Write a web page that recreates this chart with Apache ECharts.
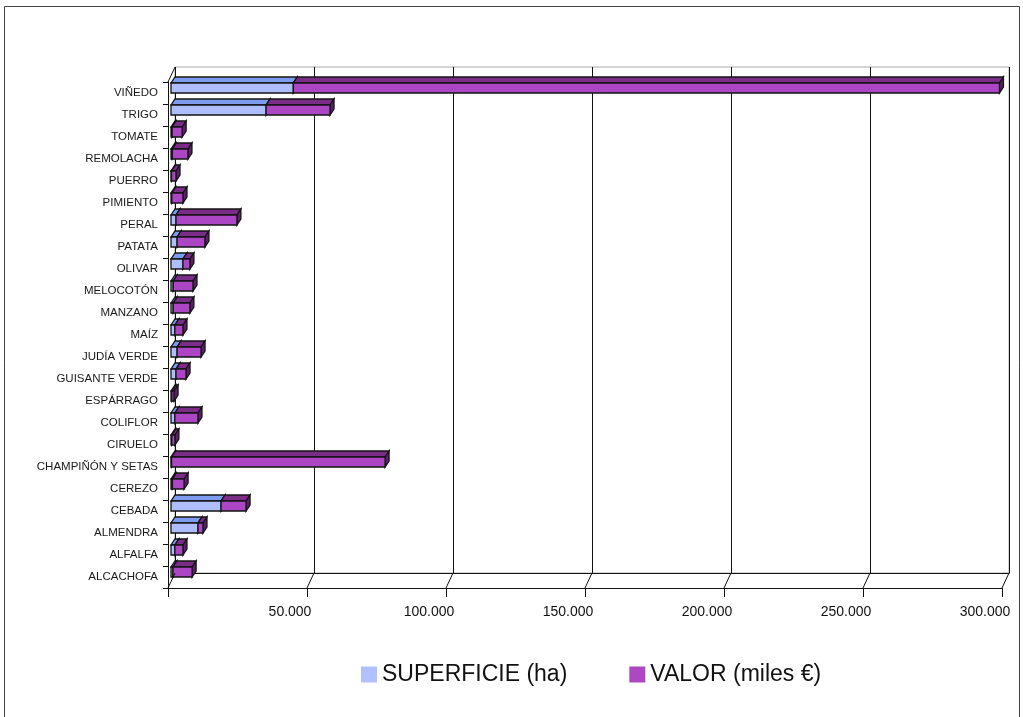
<!DOCTYPE html>
<html><head><meta charset="utf-8">
<script src="https://cdn.jsdelivr.net/npm/echarts@6/dist/echarts.min.js"></script>
<style>html,body{margin:0;padding:0;background:#fff}#c{width:1023px;height:717px}</style>
</head><body><div id="c"></div>
<script>
const categories = ['VIÑEDO','TRIGO','TOMATE','REMOLACHA','PUERRO','PIMIENTO','PERAL','PATATA','OLIVAR','MELOCOTÓN','MANZANO','MAÍZ','JUDÍA VERDE','GUISANTE VERDE','ESPÁRRAGO','COLIFLOR','CIRUELO','CHAMPIÑÓN Y SETAS','CEREZO','CEBADA','ALMENDRA','ALFALFA','ALCACHOFA'];
const superficie = [44000,34200,400,500,200,300,1800,2200,4300,800,800,1400,2200,1800,300,1400,300,200,500,18000,9700,1400,700];
const valor = [254000,23000,3600,5600,1600,4000,21900,10000,2500,7100,6000,2900,8600,3600,800,8300,1100,76800,4200,9000,1800,2900,6900];
const xTicks = [0,50000,100000,150000,200000,250000,300000];
const seriesNames = ['SUPERFICIE (ha)','VALOR (miles €)'];

const FONT = "'Liberation Sans', Arial, sans-serif";
const blue = {front:'#aebdfc', top:'#7d9cf0', side:'#6582d6'};
const purple = {front:'#ad46c4', top:'#7b2c89', side:'#5d1f69'};

function boxRender(colors) {
  return function(params, api) {
    const i = api.value(0), b = api.value(1), v = api.value(2);
    const p0 = api.coord([b, i]);
    const p1 = api.coord([b + v, i]);
    const h = 10, dx = 4, dy = 6;
    const x0 = p0[0], x1 = p1[0], yc = p0[1];
    const yt = yc - h / 2, yb = yc + h / 2;
    const st = {stroke:'#141414', lineWidth:1.3};
    return {type:'group', children:[
      {type:'polygon', shape:{points:[[x0,yt],[x1,yt],[x1+dx,yt-dy],[x0+dx,yt-dy]]}, style:Object.assign({fill:colors.top}, st)},
      {type:'polygon', shape:{points:[[x1,yt],[x1+dx,yt-dy],[x1+dx,yb-dy],[x1,yb]]}, style:Object.assign({fill:colors.side}, st)},
      {type:'rect', shape:{x:x0, y:yt, width:Math.max(x1-x0,0), height:h}, style:Object.assign({fill:colors.front}, st)}
    ]};
  };
}

function floorRender(params, api) {
  const v = api.value(0);
  const x = api.coord([v, 0])[0];
  const cs = params.coordSys;
  const bottom = cs.y + cs.height;
  const st = {stroke:'#111', lineWidth:1};
  const ch = [{type:'line', shape:{x1:x, y1:bottom, x2:x+7, y2:bottom-15}, style:st}];
  if (v === 0) ch.push({type:'line', shape:{x1:x, y1:cs.y, x2:x+7, y2:cs.y-15}, style:st});
  return {type:'group', children:ch};
}

const fmt = v => v === 0 ? '' : String(v).replace(/\B(?=(\d{3})+(?!\d))/g, '.');

const chart = echarts.init(document.getElementById('c'), null, {renderer:'canvas'});
chart.setOption({
  backgroundColor:'#fff',
  animation:false,
  textStyle:{fontFamily:FONT},
  graphic:[{type:'rect', shape:{x:4.5, y:6.5, width:1015, height:720}, style:{fill:null, stroke:'#444', lineWidth:1}, z:-10}],
  legend:{
    left:356, top:658, itemWidth:16, itemHeight:16, itemGap:62,
    textStyle:{fontFamily:FONT, fontSize:23, color:'#111'},
    data:[{name:seriesNames[0], icon:'rect'},{name:seriesNames[1], icon:'rect'}]
  },
  grid:[
    {left:175, top:67, width:834, height:506, show:true, borderColor:'#aaa', borderWidth:1},
    {left:171, top:77, width:834, height:506},
    {left:168, top:82, width:834, height:506}
  ],
  xAxis:[
    {gridIndex:0, type:'value', min:0, max:300000, interval:50000,
     axisLine:{show:true, lineStyle:{color:'#111'}}, axisTick:{show:false}, axisLabel:{show:false},
     splitLine:{show:true, lineStyle:{color:'#111', width:1}}},
    {gridIndex:1, type:'value', min:0, max:300000, interval:50000, show:false},
    {gridIndex:2, type:'value', min:0, max:300000, interval:50000,
     axisLine:{show:true, lineStyle:{color:'#111'}},
     axisTick:{show:true, length:9, lineStyle:{color:'#111'}},
     splitLine:{show:false},
     axisLabel:{formatter:fmt, fontSize:14, color:'#111', margin:17, padding:[0,34,0,0], fontFamily:FONT}}
  ],
  yAxis:[
    {gridIndex:0, type:'category', data:categories, inverse:true, show:false},
    {gridIndex:1, type:'category', data:categories, inverse:true, show:false},
    {gridIndex:2, type:'category', data:categories, inverse:true,
     axisLine:{show:true, lineStyle:{color:'#111'}},
     axisTick:{show:true, length:5, lineStyle:{color:'#111'}},
     splitLine:{show:false},
     axisLabel:{fontSize:11.5, color:'#1a1a1a', margin:10, interval:0, fontFamily:FONT, padding:[0,0,3,0]}}
  ],
  series:[
    {name:seriesNames[0], type:'custom', xAxisIndex:1, yAxisIndex:1, itemStyle:{color:'#b1c1ff'},
     renderItem:boxRender(blue), encode:{x:[1,2], y:0},
     data:superficie.map((v,i)=>[i,0,v])},
    {name:seriesNames[1], type:'custom', xAxisIndex:1, yAxisIndex:1, itemStyle:{color:'#ae48c2'},
     renderItem:boxRender(purple), encode:{x:[1,2], y:0},
     data:valor.map((v,i)=>[i,superficie[i],v])},
    {name:'floor', type:'custom', xAxisIndex:2, yAxisIndex:2, silent:true,
     renderItem:floorRender, encode:{x:0, y:1},
     data:xTicks.map(v=>[v,0])}
  ]
});
</script></body></html>
